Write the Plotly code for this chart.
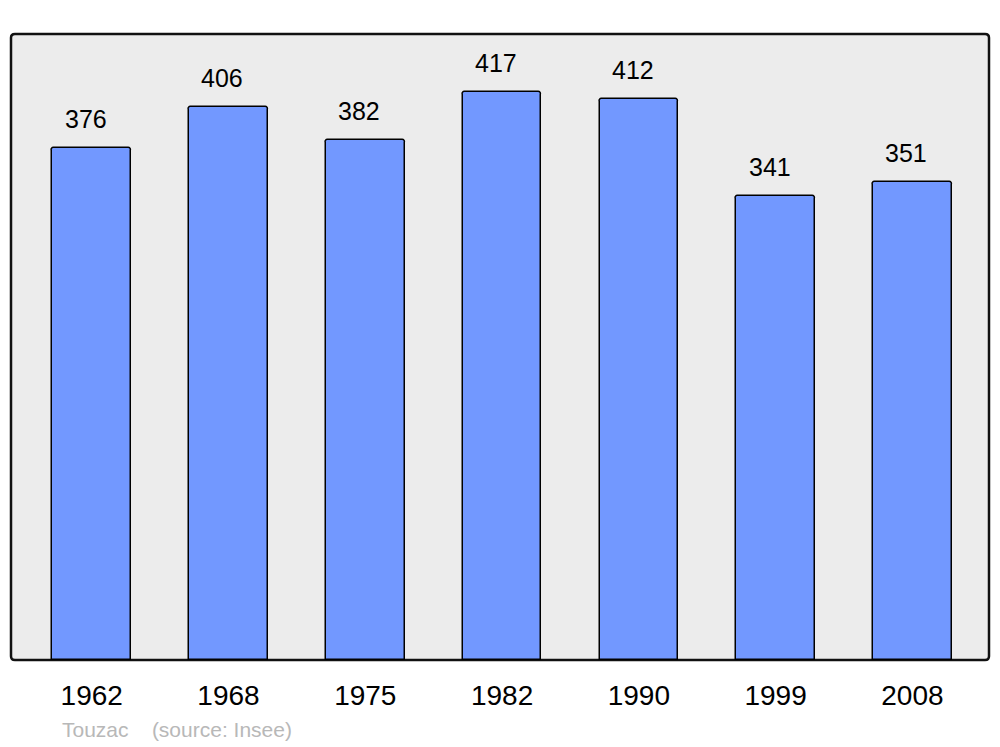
import plotly.graph_objects as go

years = ['1962', '1968', '1975', '1982', '1990', '1999', '2008']
population = [376, 406, 382, 417, 412, 341, 351]

BAR_COLOR = '#7298ff'
BG_COLOR = '#ececec'
FONT = 'Liberation Sans, Arial, sans-serif'

positions = list(range(len(years)))

fig = go.Figure(go.Bar(
    x=positions,
    y=population,
    width=0.575,
    marker=dict(color=BAR_COLOR, line=dict(color='black', width=1.5), cornerradius=3),
    hoverinfo='skip',
))

# value labels above each bar (slightly left of centre, as in the original)
for pos, val in zip(positions, population):
    fig.add_annotation(
        x=pos, y=val, text=str(val), showarrow=False,
        yanchor='bottom', yshift=13, xshift=-6,
        font=dict(family=FONT, size=25, color='black'),
    )

# rounded frame of the plot area
rx, ry = 0.004, 0.006
frame = (f"M {rx},0 L {1-rx},0 Q 1,0 1,{ry} L 1,{1-ry} Q 1,1 {1-rx},1 "
         f"L {rx},1 Q 0,1 0,{1-ry} L 0,{ry} Q 0,0 {rx},0 Z")
fig.add_shape(
    type='path', path=frame, xref='x domain', yref='y domain',
    fillcolor=BG_COLOR, line=dict(color='#111111', width=2.5), layer='below',
)

# footer
fig.add_annotation(
    x=0, y=0, xref='paper', yref='paper', xanchor='left', yanchor='top',
    xshift=49, yshift=-56,
    text='Touzac &nbsp;&nbsp; (source: Insee)', showarrow=False,
    font=dict(family=FONT, size=21, color='#b8b8b8'),
)

fig.update_xaxes(
    range=[-0.59, 6.56],
    tickvals=positions, ticktext=years,
    tickfont=dict(family=FONT, size=28, color='black'),
    showgrid=False, zeroline=False, showline=False, ticks='',
    ticklabelstandoff=16,
)
fig.update_yaxes(
    range=[0, 459.6], visible=False, showgrid=False, zeroline=False,
)

fig.update_layout(
    width=1000, height=747,
    margin=dict(l=11, r=11, t=34, b=87),
    paper_bgcolor='white',
    plot_bgcolor='rgba(0,0,0,0)',
    showlegend=False,
    bargap=0,
)

fig.write_html("out.html", config={'displayModeBar': False},
               post_script="document.body.style.margin='0';")
